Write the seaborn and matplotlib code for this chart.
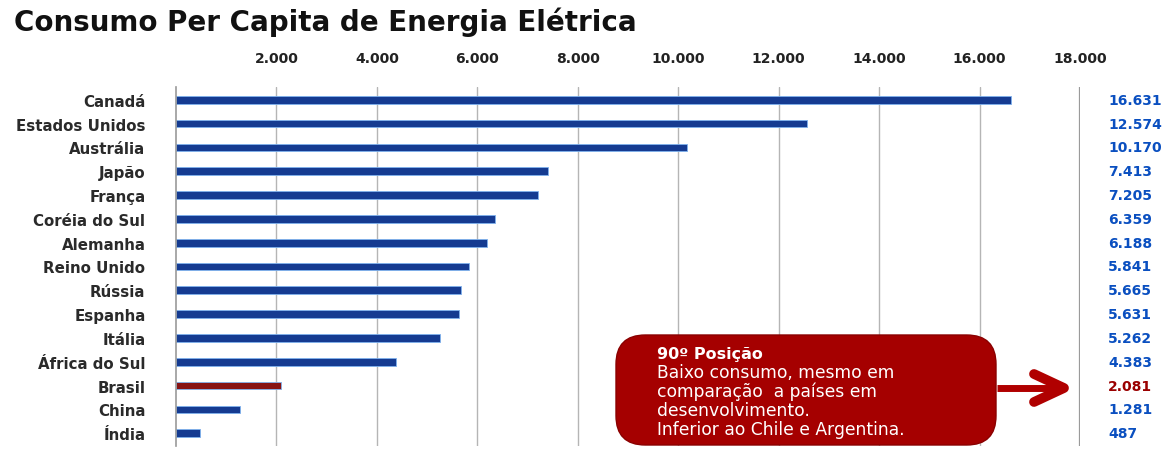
import matplotlib
matplotlib.use("Agg")
import matplotlib.pyplot as plt
import seaborn as sns
import pandas as pd
from matplotlib.patches import FancyBboxPatch
from matplotlib.lines import Line2D

paises = ["Canadá", "Estados Unidos", "Austrália", "Japão", "França", "Coréia do Sul",
          "Alemanha", "Reino Unido", "Rússia", "Espanha", "Itália", "África do Sul",
          "Brasil", "China", "Índia"]
consumo = [16631, 12574, 10170, 7413, 7205, 6359, 6188, 5841, 5665, 5631, 5262, 4383,
           2081, 1281, 487]
destaque = "Brasil"
ticks_x = [2000, 4000, 6000, 8000, 10000, 12000, 14000, 16000, 18000]

AZUL = "#0033a6"
VERMELHO = "#9a0000"
TEXTO_AZUL = "#0a4fc0"

sns.set_theme(style="white")
plt.rcParams["font.family"] = ["DejaVu Sans"]

df = pd.DataFrame({"pais": paises, "consumo": consumo})
df["grupo"] = ["destaque" if p == destaque else "outros" for p in paises]

W, H = 1171, 452
fig = plt.figure(figsize=(W / 100, H / 100), dpi=100)
ax = fig.add_axes([176 / W, 1 - 447 / H, 904 / W, 359 / H])

sns.barplot(data=df, y="pais", x="consumo", hue="grupo",
            palette={"outros": AZUL, "destaque": VERMELHO},
            orient="h", width=0.32, dodge=False, legend=False, ax=ax,
            edgecolor="#7fb2ee", linewidth=0.6)

ax.set_xlim(0, 18000)
ax.set_ylim(len(paises) - 0.46, -0.54)
ax.set_xticks(ticks_x)
ax.set_xticklabels([f"{v:,}".replace(",", ".") for v in ticks_x],
                   fontsize=10, fontweight="bold", color="#222222")
ax.xaxis.tick_top()
ax.tick_params(axis="x", length=0, pad=16)
ax.tick_params(axis="y", length=0, pad=22, labelsize=10.8)
for lbl in ax.get_yticklabels():
    lbl.set_fontweight("bold")
    lbl.set_color("#2a2a2a")
ax.set_xlabel("")
ax.set_ylabel("")

for v in ticks_x[:-1]:
    ax.axvline(v, color="#b5b5b5", linewidth=1.0, zorder=0)
ax.axvline(18000, color="#9a9a9a", linewidth=1.6, zorder=0)
for s in ["top", "right", "bottom"]:
    ax.spines[s].set_visible(False)
ax.spines["left"].set_color("#999999")
ax.spines["left"].set_linewidth(1.2)

# valores à direita do gráfico
for i, (p, v) in enumerate(zip(paises, consumo)):
    txt = f"{v:,}".replace(",", ".")
    cor = VERMELHO if p == destaque else TEXTO_AZUL
    ax.annotate(txt, xy=(1108 / W, i), xycoords=("figure fraction", "data"),
                ha="left", va="center", fontsize=10, fontweight="bold", color=cor)

# caixa de destaque
box = FancyBboxPatch((616 / W, 1 - 446 / H), 380 / W, 110 / H,
                     boxstyle="round,pad=0,rounding_size=0.025",
                     transform=fig.transFigure, facecolor="#a50000",
                     edgecolor="#8a0000", linewidth=1.0, zorder=5,
                     mutation_aspect=W / H)
fig.patches.append(box)

# seta apontando para o valor do Brasil
y_br = 1 - 389 / H
cor_seta = "#b00000"
fig.add_artist(Line2D([997 / W, 1062 / W], [y_br, y_br], transform=fig.transFigure,
                      color=cor_seta, linewidth=5, solid_capstyle="butt", zorder=6))
fig.add_artist(Line2D([1034 / W, 1064 / W, 1034 / W],
                      [y_br + 14 / H, y_br, y_br - 14 / H], transform=fig.transFigure,
                      color=cor_seta, linewidth=7, solid_capstyle="round",
                      solid_joinstyle="round", zorder=6))

fig.text(657 / W, 1 - 355 / H, "90º Posição", color="white", fontsize=11.5,
         fontweight="bold", va="center", ha="left", zorder=7)
corpo = ("Baixo consumo, mesmo em\n"
         "comparação  a países em\n"
         "desenvolvimento.\n"
         "Inferior ao Chile e Argentina.")
fig.text(657 / W, 1 - 364 / H, corpo, color="white", fontsize=12.3,
         va="top", ha="left", linespacing=1.06, zorder=7)

fig.text(14 / W, 1 - 22 / H, "Consumo Per Capita de Energia Elétrica",
         fontsize=20, fontweight="bold", color="#111111", va="center", ha="left")

fig.savefig("out.png", dpi=100)
